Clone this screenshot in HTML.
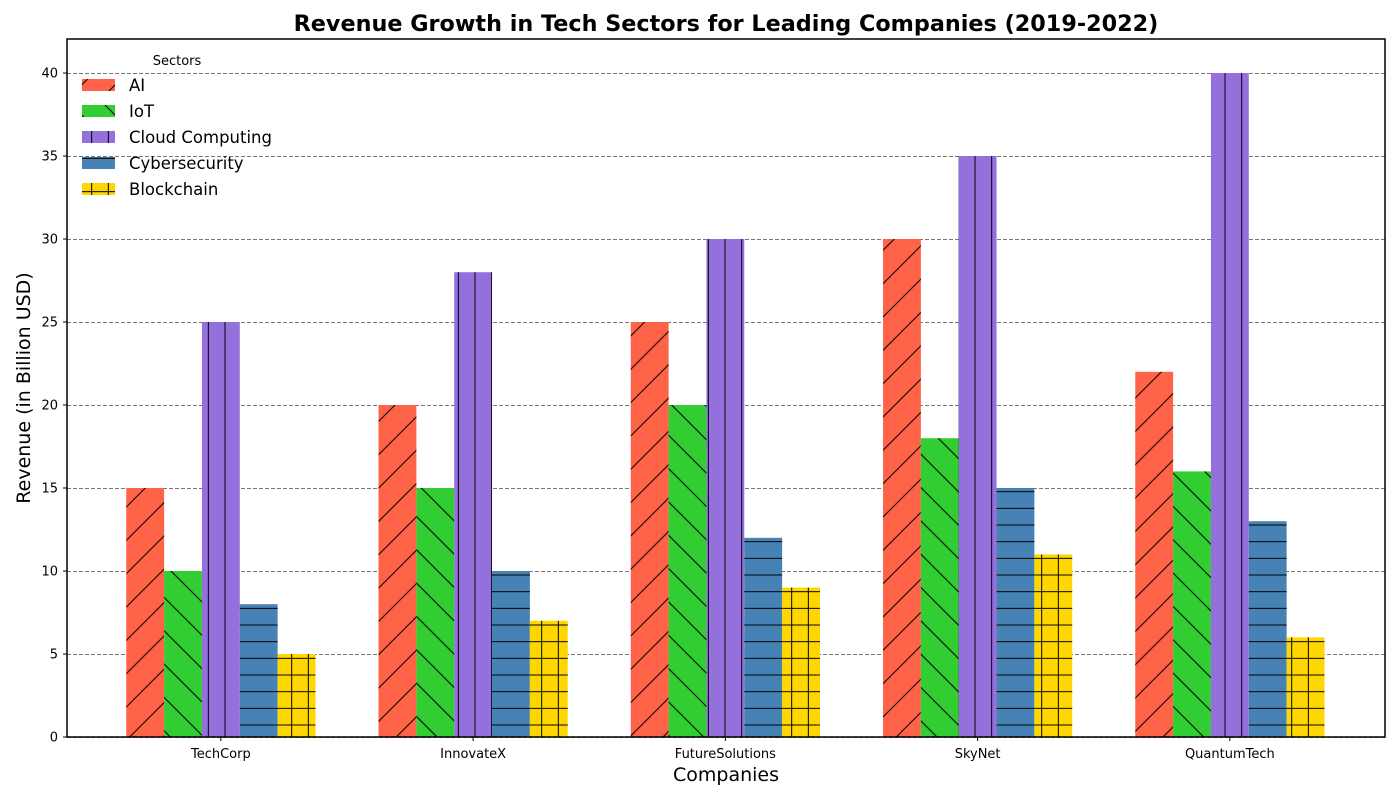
<!DOCTYPE html>
<html><head><meta charset="utf-8"><style>
body{margin:0;background:#fff;}
svg text{font-family:"DejaVu Sans","Liberation Sans",sans-serif;}
</style></head><body>
<svg id="chart" width="1400" height="800" xmlns="http://www.w3.org/2000/svg">
<defs>
<pattern id="h-ai" patternUnits="userSpaceOnUse" width="33.333" height="33.333"><path d="M0,33.333L33.333,0M-8,8L8,-8M25.33,41.33L41.33,25.33" stroke="#000" stroke-width="1"/></pattern>
<pattern id="h-iot" patternUnits="userSpaceOnUse" width="33.333" height="33.333"><path d="M0,0L33.333,33.333M-8,25.33L8,41.33M25.33,-8L41.33,8" stroke="#000" stroke-width="1"/></pattern>
<pattern id="h-cloud" patternUnits="userSpaceOnUse" width="16.667" height="16.667"><path d="M8.333,0V16.667" stroke="#000" stroke-width="1"/></pattern>
<pattern id="h-cyber" patternUnits="userSpaceOnUse" width="16.667" height="16.667"><path d="M0,8.333H16.667" stroke="#000" stroke-width="1"/></pattern>
<pattern id="h-block" patternUnits="userSpaceOnUse" width="16.667" height="16.667"><path d="M0,8.333H16.667M8.333,0V16.667" stroke="#000" stroke-width="1"/></pattern>
</defs>
<g id="grid"></g>
<g id="bars"></g>
<g id="axes"></g>
<g id="legend"></g>
</svg>
<script>
const companies=["TechCorp","InnovateX","FutureSolutions","SkyNet","QuantumTech"];
const sectors=["AI","IoT","Cloud Computing","Cybersecurity","Blockchain"];
const aiValues=[15,20,25,30,22];
const iotValues=[10,15,20,18,16];
const cloudValues=[25,28,30,35,40];
const cyberValues=[8,10,12,15,13];
const blockchainValues=[5,7,9,11,6];
const yTicks=[0,5,10,15,20,25,30,35,40];

const series=[aiValues,iotValues,cloudValues,cyberValues,blockchainValues];
const colors=["#FF6347","#32CD32","#9370DB","#4682B4","#FFD700"];
const hatches=["h-ai","h-iot","h-cloud","h-cyber","h-block"];
const L=67,R=1385,T=39,B=737;
const xmin=-0.61,xmax=4.615,ymax=42.05;
const xs=v=>L+(v-xmin)/(xmax-xmin)*(R-L);
const ys=v=>B-v/ymax*(B-T);
const NS="http://www.w3.org/2000/svg";
function mk(tag,attrs,parent,text){const e=document.createElementNS(NS,tag);for(const k in attrs)e.setAttribute(k,attrs[k]);if(text!==undefined)e.textContent=text;parent.appendChild(e);return e;}
const grid=document.getElementById('grid'),bars=document.getElementById('bars'),axes=document.getElementById('axes'),leg=document.getElementById('legend');
yTicks.forEach(t=>{
  const g=mk('line',{x1:L,x2:R,y1:Math.round(ys(t))+0.5,y2:Math.round(ys(t))+0.5,stroke:'#777','stroke-width':1,'stroke-dasharray':'4,2'},grid);
  
  
});
const w=0.15;
series.forEach((vals,si)=>{
  vals.forEach((v,ci)=>{
    const x0=xs(ci+(si-2)*w-w/2),x1=xs(ci+(si-2)*w+w/2);
    const g=mk('g',{},bars);
    
    
    mk('rect',{x:x0,y:ys(v),width:x1-x0,height:ys(0)-ys(v),fill:colors[si]},g);
    mk('rect',{x:x0,y:ys(v),width:x1-x0,height:ys(0)-ys(v),fill:'url(#'+hatches[si]+')'},g);
  });
});
const frame=mk('rect',{x:L,y:T,width:R-L,height:B-T,fill:'none',stroke:'#000','stroke-width':1.5},axes);


yTicks.forEach(t=>{
  mk('line',{x1:L-4,x2:L,y1:ys(t),y2:ys(t),stroke:'#000'},axes);
  const tx=mk('text',{x:L-9,y:ys(t)+4.5,'text-anchor':'end','font-size':13},axes,String(t));
  
  
});
companies.forEach((c,i)=>{
  mk('line',{x1:xs(i),x2:xs(i),y1:B,y2:B+4,stroke:'#000'},axes);
  const tx=mk('text',{x:xs(i),y:B+21,'text-anchor':'middle','font-size':13},axes,c);
  
  
});
let t=mk('text',{x:726,y:31,'text-anchor':'middle','font-size':22.3,'font-weight':'bold'},axes,'Revenue Growth in Tech Sectors for Leading Companies (2019-2022)');


t=mk('text',{x:726,y:781,'text-anchor':'middle','font-size':19},axes,'Companies');


t=mk('text',{x:0,y:0,'text-anchor':'middle','font-size':19,transform:'translate(30,388) rotate(-90)'},axes,'Revenue (in Billion USD)');


t=mk('text',{x:177,y:65,'text-anchor':'middle','font-size':13},leg,'Sectors');


sectors.forEach((s,i)=>{
  const y=79+i*26;
  const g=mk('g',{},leg);
  
  
  mk('rect',{x:82,y:y,width:33,height:12,fill:colors[i]},g);
  mk('rect',{x:82,y:y,width:33,height:12,fill:'url(#'+hatches[i]+')'},g);
  mk('text',{x:129,y:y+12,'font-size':16.5},g,s);
});
</script>
</body></html>
